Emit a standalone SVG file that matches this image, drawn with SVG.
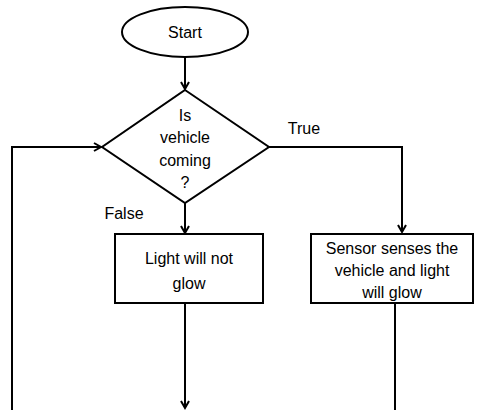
<svg xmlns="http://www.w3.org/2000/svg" width="482" height="410" viewBox="0 0 482 410">
<style>
.s{fill:#fff;stroke:#000;stroke-width:2}
.c{fill:none;stroke:#000;stroke-width:2}
text{font-family:"Liberation Sans",Arial,sans-serif;font-size:16px;fill:#000;text-anchor:middle}
</style>
<defs>
<marker id="a" markerWidth="10" markerHeight="10" refX="8" refY="5" orient="auto" markerUnits="userSpaceOnUse">
<path d="M1,1 L8,5 L1,9" fill="none" stroke="#000" stroke-width="2"/>
</marker>
</defs>
<rect width="482" height="410" fill="#fff"/>
<g id="connectors">
<path class="c" d="M185,57 V89" marker-end="url(#a)"/>
<path class="c" d="M269,147 H402 V232" marker-end="url(#a)"/>
<path class="c" d="M185,203 V233" marker-end="url(#a)"/>
<path class="c" d="M12,410 V147 H101" marker-end="url(#a)"/>
<path class="c" d="M185,303 V408" marker-end="url(#a)"/>
<path class="c" d="M395,303 V410"/>
<text x="304" y="134">True</text>
<text x="124" y="219">False</text>
</g>
<g id="start">
<ellipse class="s" cx="185" cy="32" rx="63" ry="25"/>
<text x="185" y="38">Start</text>
</g>
<g id="decision">
<polygon class="s" points="185,90 269,147 185,203 102,147"/>
<text x="185" y="121">Is</text>
<text x="185" y="143">vehicle</text>
<text x="185" y="166">coming</text>
<text x="185" y="188">?</text>
</g>
<g id="no-glow">
<rect class="s" x="115" y="234" width="148" height="69"/>
<text x="189" y="264">Light will not</text>
<text x="189" y="289">glow</text>
</g>
<g id="glow">
<rect class="s" x="311" y="234" width="162" height="69"/>
<text x="392" y="254">Sensor senses the</text>
<text x="392" y="276">vehicle and light</text>
<text x="392" y="298">will glow</text>
</g>
</svg>
